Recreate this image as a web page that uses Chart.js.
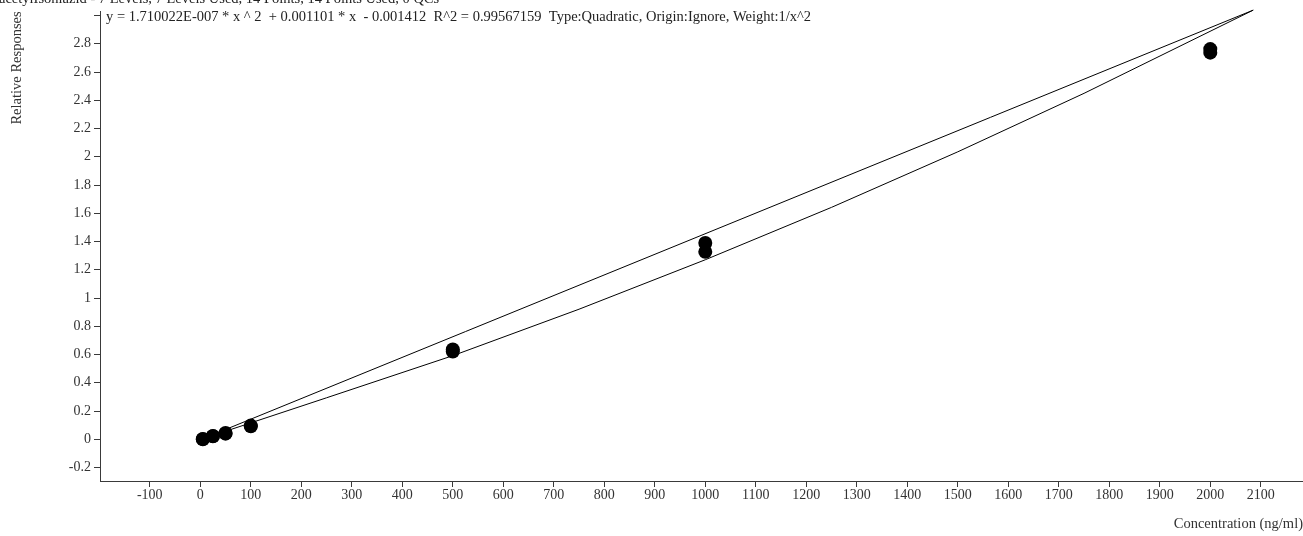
<!DOCTYPE html>
<html>
<head>
<meta charset="utf-8">
<script src="https://cdn.jsdelivr.net/npm/chart.js@4/dist/chart.umd.min.js"></script>
<style>
html,body{margin:0;padding:0;background:#fff;overflow:hidden;}
#wrap{position:relative;width:1303px;height:536px;}
canvas{display:block;}
</style>
</head>
<body>
<div id="wrap"><canvas id="c" width="1303" height="536"></canvas></div>
<script>
// ---- data ----
const headerText = "acetylIsoniazid - 7 Levels, 7 Levels Used, 14 Points, 14 Points Used, 0 QCs";
const equationText = "y = 1.710022E-007 * x ^ 2  + 0.001101 * x  - 0.001412  R^2 = 0.99567159  Type:Quadratic, Origin:Ignore, Weight:1/x^2";
const xTitle = "Concentration (ng/ml)";
const yTitle = "Relative Responses";

const concentrations = [5, 5, 25, 25, 50, 50, 100, 100, 500, 500, 1000, 1000, 2000, 2000];
const responses = [0.003, 0.001, 0.024, 0.022, 0.045, 0.040, 0.097, 0.092, 0.636, 0.622, 1.390, 1.327, 2.762, 2.737];

const curveX = [5, 250, 500, 750, 1000, 1250, 1500, 1750, 2085];
const curveY = [0.004, 0.294, 0.592, 0.921, 1.271, 1.642, 2.035, 2.449, 3.038];

const chordX = [5, 2085];
const chordY = [0.004, 3.038];

const xTicks = [-100, 0, 100, 200, 300, 400, 500, 600, 700, 800, 900, 1000, 1100, 1200, 1300, 1400, 1500, 1600, 1700, 1800, 1900, 2000, 2100];
const yTicks = [-0.2, 0, 0.2, 0.4, 0.6, 0.8, 1, 1.2, 1.4, 1.6, 1.8, 2, 2.2, 2.4, 2.6, 2.8, 3];
const yUnlabeled = [3];

// ---- build ----
const zip = (xs, ys) => xs.map((x, i) => ({x: x, y: ys[i]}));
const FONT = "'Liberation Serif', 'Times New Roman', serif";
const AXIS = '#3a3a3a';
const TEXT = '#333333';

const textPlugin = {
  id: 'headerText',
  afterDraw(chart) {
    const ctx = chart.ctx;
    ctx.save();
    ctx.fillStyle = '#222';
    ctx.font = "14.5px " + FONT;
    ctx.textBaseline = 'alphabetic';
    ctx.textAlign = 'left';
    ctx.fillText(headerText, -1, 3);
    ctx.fillText(equationText, 106, 21);
    ctx.restore();
  }
};

new Chart(document.getElementById('c'), {
  type: 'scatter',
  data: {
    datasets: [
      {
        label: 'Curve',
        data: zip(curveX, curveY),
        showLine: true,
        borderColor: '#000',
        borderWidth: 1,
        pointRadius: 0,
        fill: false,
        clip: false,
        order: 2
      },
      {
        label: 'Chord',
        data: zip(chordX, chordY),
        showLine: true,
        borderColor: '#000',
        borderWidth: 1,
        pointRadius: 0,
        fill: false,
        clip: false,
        order: 3
      },
      {
        label: 'Standards',
        data: zip(concentrations, responses),
        showLine: false,
        pointRadius: 7,
        pointHoverRadius: 7,
        pointBackgroundColor: '#000',
        pointBorderColor: '#000',
        pointBorderWidth: 0,
        order: 1
      }
    ]
  },
  options: {
    responsive: false,
    animation: false,
    devicePixelRatio: 1,
    layout: { autoPadding: false, padding: { top: 11, right: 0, left: 0, bottom: 0 } },
    plugins: {
      legend: { display: false },
      tooltip: { enabled: false },
      title: { display: false }
    },
    scales: {
      x: {
        type: 'linear',
        min: -198.6,
        max: 2183.6,
        afterBuildTicks: s => { s.ticks = xTicks.map(v => ({value: v})); },
        afterFit: s => { s.height = 55; },
        grid: { display: true, drawOnChartArea: false, drawTicks: true, tickLength: 6, color: AXIS, lineWidth: 1 },
        border: { display: true, color: AXIS, width: 1 },
        ticks: {
          color: TEXT,
          padding: 0,
          maxRotation: 0,
          autoSkip: false,
          font: { family: FONT, size: 14 },
          callback: v => String(v)
        },
        title: {
          display: true,
          text: xTitle,
          align: 'end',
          color: TEXT,
          font: { family: FONT, size: 14.5 },
          padding: { top: 0, bottom: 3 }
        }
      },
      y: {
        type: 'linear',
        min: -0.295,
        max: 3.029,
        afterBuildTicks: s => { s.ticks = yTicks.map(v => ({value: v})); },
        afterFit: s => { s.width = 100; },
        grid: { display: true, drawOnChartArea: false, drawTicks: true, tickLength: 6, color: AXIS, lineWidth: 1 },
        border: { display: true, color: AXIS, width: 1 },
        ticks: {
          color: TEXT,
          padding: 3,
          autoSkip: false,
          font: { family: FONT, size: 14 },
          callback: v => yUnlabeled.includes(v) ? '' : String(parseFloat(Number(v).toFixed(1)))
        },
        title: {
          display: true,
          text: yTitle,
          align: 'end',
          color: TEXT,
          font: { family: FONT, size: 14.5 },
          padding: { top: 8, bottom: 0 }
        }
      }
    }
  },
  plugins: [textPlugin]
});
</script>
</body>
</html>
